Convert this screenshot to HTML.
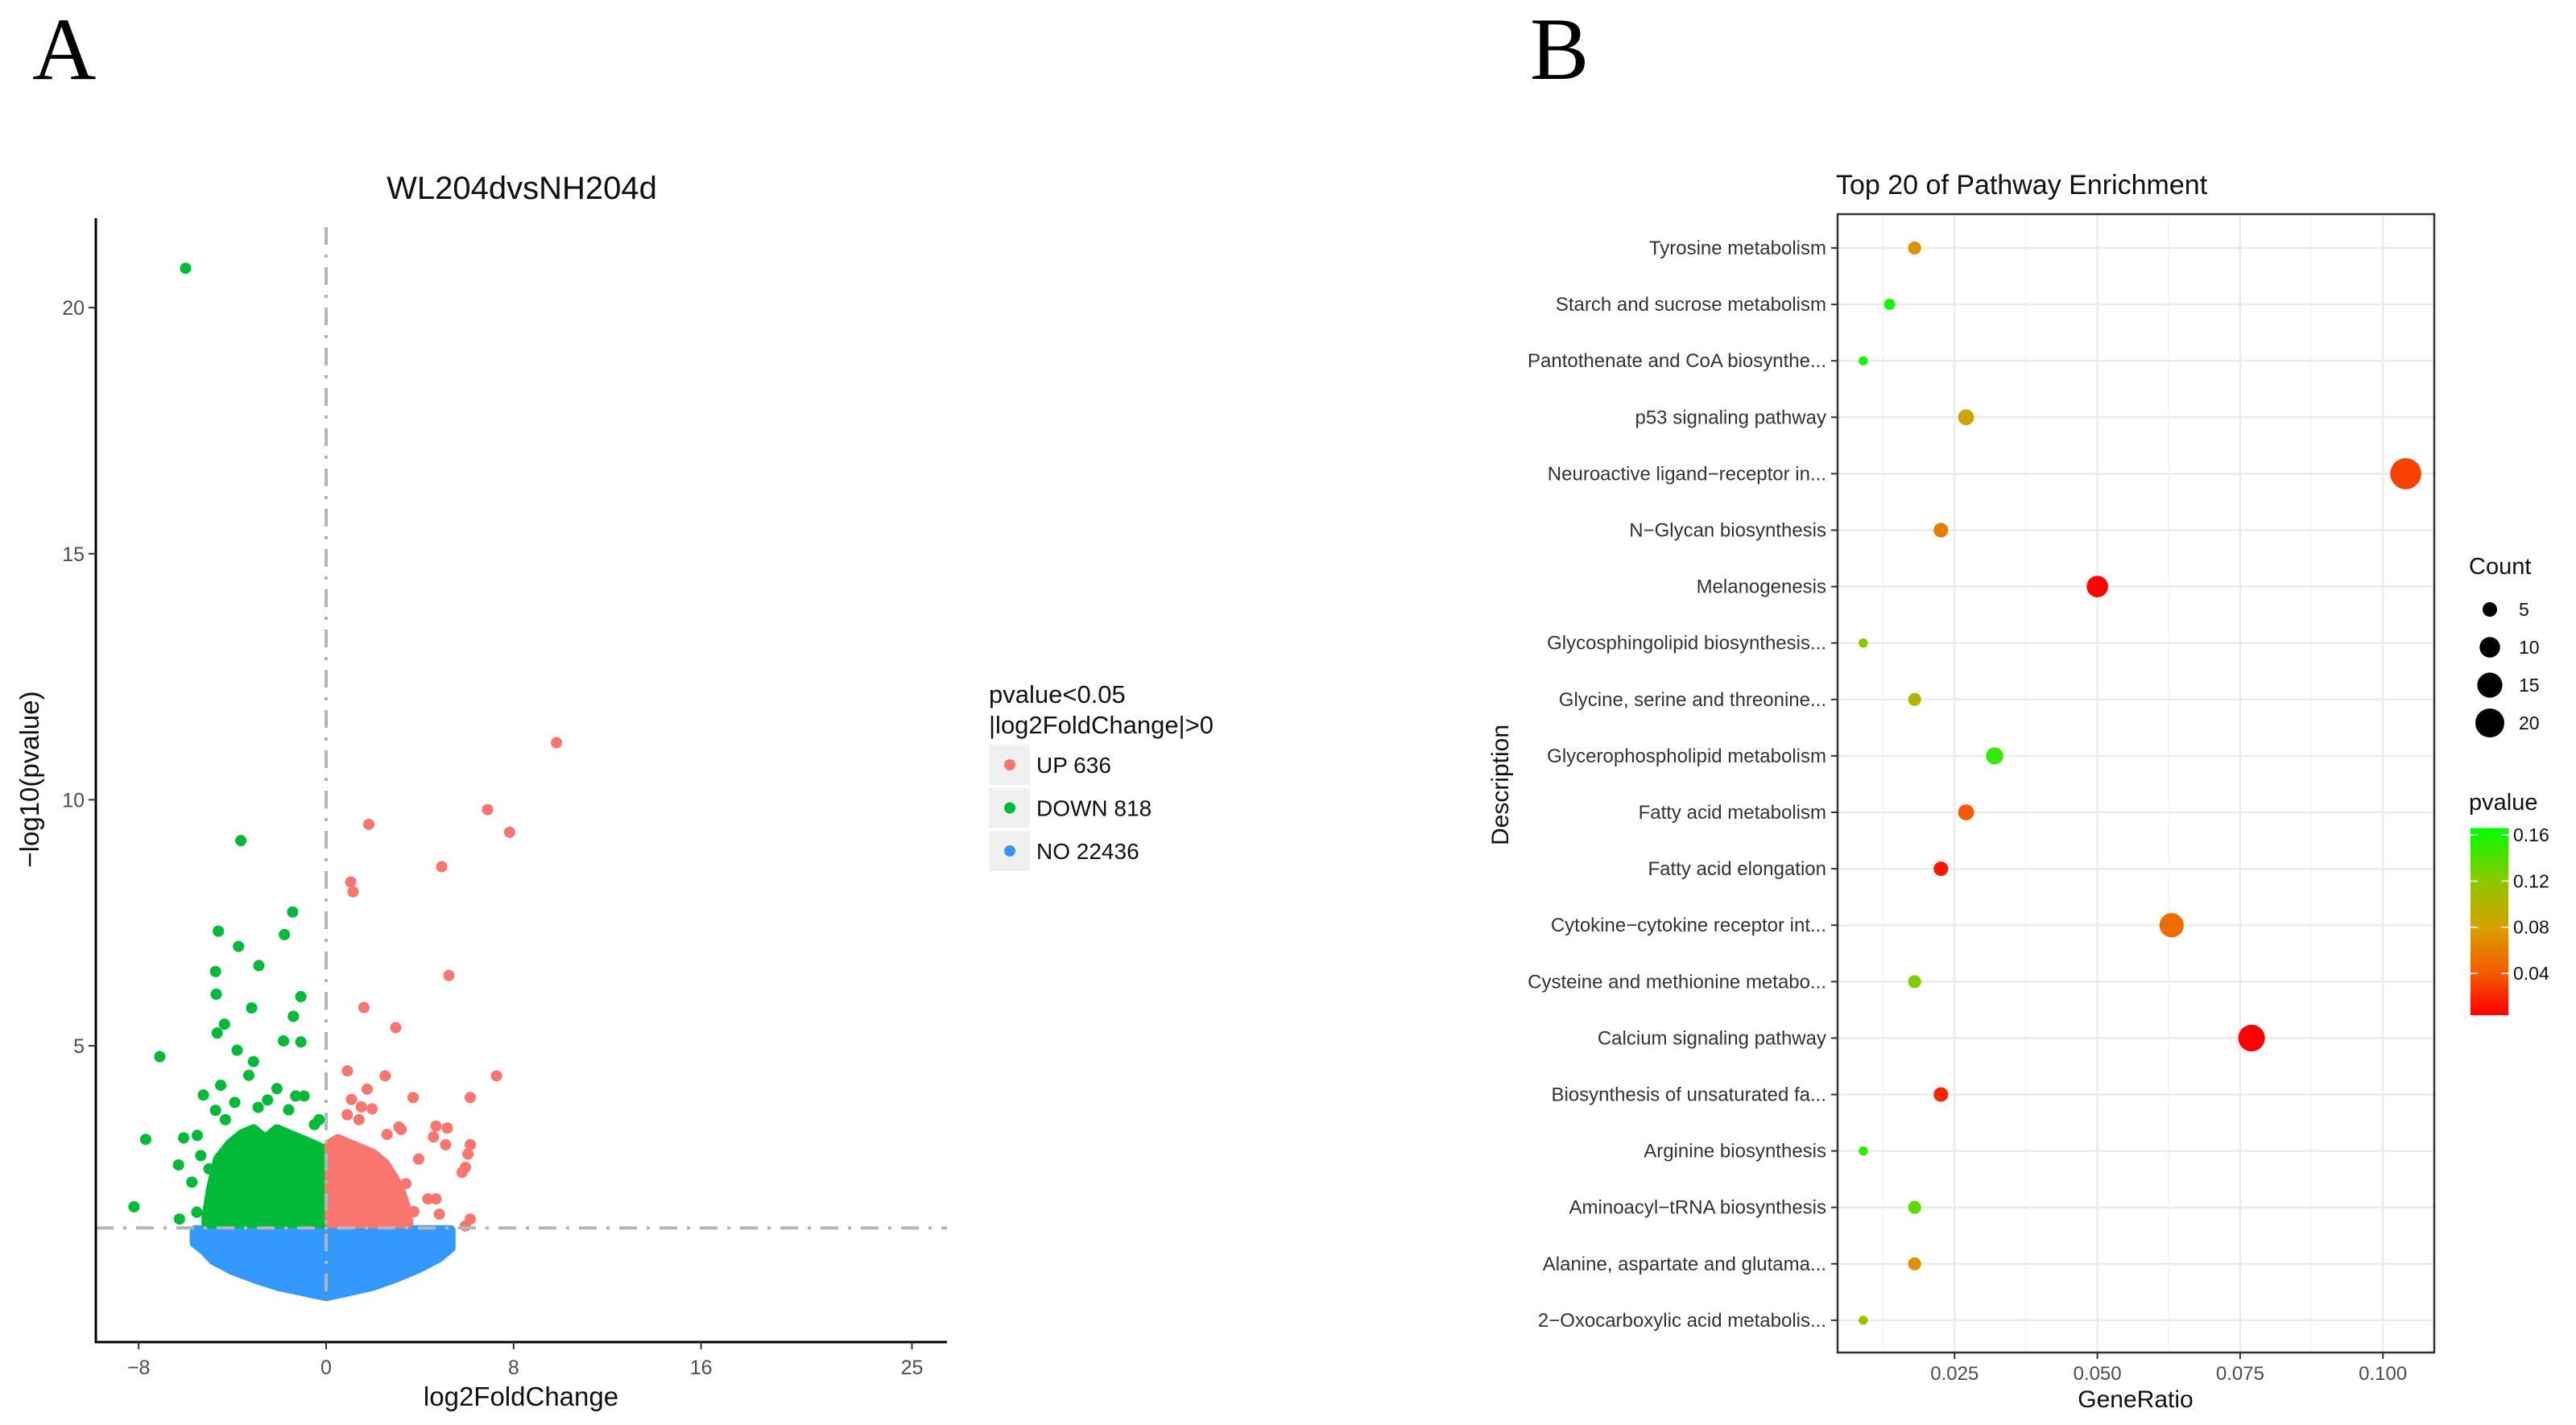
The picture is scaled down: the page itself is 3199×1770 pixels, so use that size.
<!DOCTYPE html>
<html><head><meta charset="utf-8"><style>
html,body{margin:0;padding:0;background:#fff;}
svg{display:block;font-family:"Liberation Sans",Arial,sans-serif;}
</style></head><body>
<svg id="fig" width="3199" height="1770" viewBox="0 0 3199 1770" xmlns="http://www.w3.org/2000/svg">
<rect x="0" y="0" width="3199" height="1770" fill="#fff"/>
<text x="40" y="98" font-family="Liberation Serif, serif" font-size="110">A</text>
<text x="1900" y="98" font-family="Liberation Serif, serif" font-size="110">B</text>
<g id="volcano"></g>
<g id="dotplot"></g>
</svg>
<script>
// ---------- Volcano data ----------
const xTicks = [-8, 0, 8, 16, 25];
const yTicks = [5, 10, 15, 20];
const threshY = 1.3;
const downX = [-6.0,-3.64,-1.43,-1.78,-4.6,-3.74,-2.87,-4.72,-4.69,-1.08,-3.18,-1.4,-4.34,-4.65,-1.82,-1.08,-7.1,-3.8,-3.1,-3.3,-4.5,-2.1,-5.24,-8.2,-7.7,-6.26,-6.08,-6.3,-5.5,-5.73,-5.52,-5.35,-4.72,-0.94,-1.3,-5.0,-4.9,-2.5,-1.6,-4.3,-3.9,-2.9,-0.5,-0.3];
const downY = [20.8,9.17,7.72,7.26,7.33,7.02,6.63,6.51,6.05,6.0,5.77,5.6,5.44,5.26,5.1,5.08,4.78,4.91,4.68,4.4,4.2,4.13,4.0,1.73,3.1,1.48,3.13,2.58,3.18,2.23,1.62,2.77,3.69,3.98,3.98,2.5,1.9,3.9,3.7,3.5,3.85,3.75,3.4,3.5];
const upX = [9.83,6.89,7.83,1.82,4.93,1.05,1.15,5.24,1.61,2.97,7.27,0.91,2.52,1.75,6.15,3.71,1.08,1.5,1.96,4.69,5.17,6.15,6.05,5.94,5.8,5.1,4.58,3.11,4.69,4.34,6.15,5.94,3.74,4.83,3.95,0.9,1.4,3.4,3.2,2.6];
const upY = [11.16,9.8,9.34,9.5,8.64,8.33,8.13,6.43,5.78,5.37,4.39,4.49,4.39,4.12,3.95,3.95,3.91,3.76,3.72,3.37,3.33,2.99,2.8,2.53,2.43,2.99,3.15,3.35,1.89,1.89,1.48,1.34,1.63,1.58,2.7,3.6,3.5,2.2,3.3,3.2];
const downCloudX = [-5.1,-4.9,-4.6,-4.1,-3.6,-3.1,-2.6,-2.1,-1.6,-1.1,-0.6,-0.15];
const downCloudY = [1.5,2.1,2.7,3.0,3.2,3.3,3.1,3.3,3.2,3.1,3.0,2.9];
const upCloudX = [0.15,0.5,1.0,1.5,2.0,2.5,2.9,3.2,3.4,3.5];
const upCloudY = [3.0,3.1,3.0,2.9,2.8,2.6,2.3,2.0,1.7,1.4];
const noCloudX = [-5.6,-5.2,-4.8,-4.0,-3.0,-2.0,-1.0,0,1.0,2.0,3.0,4.0,4.8,5.3];
const noCloudBottom = [1.0,0.85,0.65,0.45,0.27,0.12,0.02,-0.08,0.02,0.13,0.3,0.5,0.7,0.9];
const noCloudTop = 1.25;
const legendLabels = ["UP 636","DOWN 818","NO 22436"];
const legendColors = ["#f8766d","#00ba38","#3399ff"];

// ---------- Dot plot data ----------
const pathways = ["Tyrosine metabolism","Starch and sucrose metabolism","Pantothenate and CoA biosynthe...","p53 signaling pathway","Neuroactive ligand\u2212receptor in...","N\u2212Glycan biosynthesis","Melanogenesis","Glycosphingolipid biosynthesis...","Glycine, serine and threonine...","Glycerophospholipid metabolism","Fatty acid metabolism","Fatty acid elongation","Cytokine\u2212cytokine receptor int...","Cysteine and methionine metabo...","Calcium signaling pathway","Biosynthesis of unsaturated fa...","Arginine biosynthesis","Aminoacyl\u2212tRNA biosynthesis","Alanine, aspartate and glutama...","2\u2212Oxocarboxylic acid metabolis..."];
const geneRatio = [0.018,0.0136,0.009,0.027,0.104,0.0226,0.050,0.009,0.018,0.032,0.027,0.0226,0.063,0.018,0.077,0.0226,0.009,0.018,0.018,0.009];
const counts = [4,3,2,6,23,5,11,2,4,7,6,5,14,4,17,5,2,4,4,2];
const pvals = [0.07,0.16,0.155,0.085,0.03,0.06,0.006,0.12,0.1,0.15,0.04,0.012,0.05,0.125,0.004,0.018,0.15,0.135,0.07,0.11];
const ratioTicks = [0.025,0.050,0.075,0.100];
const ratioTickLabels = ["0.025","0.050","0.075","0.100"];
const countLegend = [5,10,15,20];
const pTicks = [0.04,0.08,0.12,0.16];

const NS = "http://www.w3.org/2000/svg";
function mk(tag, attrs, parent){const e=document.createElementNS(NS,tag);for(const k in attrs)e.setAttribute(k,attrs[k]);parent.appendChild(e);return e;}

// ---------- Volcano ----------
const V = document.getElementById('volcano');
const vx = v => 405 + 29.1*v;
const vy = v => 1604.7 - 61.13*v;
const axL=119, axR=1176, axB=1667, axT=271;
let t = mk('text',{x:648,y:247,'font-size':40,'text-anchor':'middle',fill:'#111'},V);
t.textContent='WL204dvsNH204d';


function cloud(xs, top, bottom, color, name){
  let pts=[];
  xs.forEach((x,i)=>pts.push(vx(x)+','+vy(top[i])));
  for(let i=xs.length-1;i>=0;i--) pts.push(vx(xs[i])+','+vy(bottom[i]));
  const p=mk('polygon',{points:pts.join(' '),fill:color,stroke:color,'stroke-width':13,'stroke-linejoin':'round'},V);
  
  
}
cloud(noCloudX, noCloudX.map(()=>noCloudTop), noCloudBottom, '#3399ff','no-cloud');
cloud(downCloudX, downCloudY, downCloudX.map(()=>1.4), '#00ba38','down-cloud');
cloud(upCloudX, upCloudY, upCloudX.map(()=>1.4), '#f8766d','up-cloud');
downX.forEach((x,i)=>{const c=mk('circle',{cx:vx(x),cy:vy(downY[i]),r:7,fill:'#00ba38'},V);
  
  });
upX.forEach((x,i)=>{const c=mk('circle',{cx:vx(x),cy:vy(upY[i]),r:7,fill:'#f8766d'},V);
  
  });
let l=mk('line',{x1:axL,x2:axR,y1:vy(threshY),y2:vy(threshY),stroke:'#b5b5b5','stroke-width':4,'stroke-dasharray':'22 12 4 12'},V);


l=mk('line',{x1:vx(0),x2:vx(0),y1:282,y2:1610,stroke:'#b5b5b5','stroke-width':4,'stroke-dasharray':'22 12 4 12'},V);


l=mk('line',{x1:axL,x2:axL,y1:axT,y2:axB+1,stroke:'#000','stroke-width':3},V);


l=mk('line',{x1:axL-1,x2:axR,y1:axB,y2:axB,stroke:'#000','stroke-width':3},V);


xTicks.forEach(v=>{
  const tk=mk('line',{x1:vx(v),x2:vx(v),y1:axB,y2:axB+9,stroke:'#333','stroke-width':2},V);
  
  
  const tx=mk('text',{x:vx(v),y:axB+40,'font-size':25,'text-anchor':'middle',fill:'#4d4d4d'},V);
  tx.textContent = v<0 ? '\u2212'+Math.abs(v) : String(v);
  
  
});
yTicks.forEach(v=>{
  const tk=mk('line',{x1:axL-9,x2:axL,y1:vy(v),y2:vy(v),stroke:'#333','stroke-width':2},V);
  
  
  const tx=mk('text',{x:axL-14,y:vy(v)+9,'font-size':25,'text-anchor':'end',fill:'#4d4d4d'},V);
  tx.textContent=String(v);
  
  
});
t=mk('text',{x:647,y:1746,'font-size':33,'text-anchor':'middle',fill:'#111'},V);
t.textContent='log2FoldChange';


t=mk('text',{x:0,y:0,'font-size':33,'text-anchor':'middle',fill:'#111',transform:'translate(48,968) rotate(-90)'},V);
t.textContent='\u2212log10(pvalue)';


t=mk('text',{x:1228,y:873,'font-size':31,fill:'#111'},V);
t.textContent='pvalue<0.05';


t=mk('text',{x:1228,y:911,'font-size':31,fill:'#111'},V);
t.textContent='|log2FoldChange|>0';


legendLabels.forEach((lab,i)=>{
  const y0=925+i*53.5;
  const b=mk('rect',{x:1228,y:y0,width:51,height:50,fill:'#f0f0f0'},V);
  
  
  const c=mk('circle',{cx:1254,cy:y0+25,r:7,fill:legendColors[i]},V);
  
  
  const tx=mk('text',{x:1287,y:y0+35,'font-size':28,fill:'#111'},V);
  tx.textContent=lab;
  
  
});

// ---------- Dot plot ----------
const D = document.getElementById('dotplot');
const bx0=2282,bx1=3023,by0=266,by1=1680;
const dx = v => 2250 + 7092*v;
const dy = i => 308 + i*70.1;
function pColor(p){
  const stops=[[0.0037,[255,0,0]],[0.04,[245,90,0]],[0.08,[215,160,0]],[0.12,[140,200,0]],[0.166,[0,255,0]]];
  if(p<=stops[0][0])return 'rgb(255,0,0)';
  for(let i=1;i<stops.length;i++){if(p<=stops[i][0]){const a=stops[i-1],b=stops[i];const f=(p-a[0])/(b[0]-a[0]);
    return 'rgb('+a[1].map((c,k)=>Math.round(c+(b[1][k]-c)*f)).join(',')+')';}}
  return 'rgb(0,255,0)';
}
const rOf = c => 18*Math.sqrt(c/20);
t=mk('text',{x:2280,y:241,'font-size':34,fill:'#111'},D);
t.textContent='Top 20 of Pathway Enrichment';


let bg=mk('rect',{x:bx0,y:by0,width:bx1-bx0,height:by1-by0,fill:'#fff'},D);


ratioTicks.forEach((v,i)=>{
  const g=mk('line',{x1:dx(v),x2:dx(v),y1:by0,y2:by1,stroke:'#ebebeb','stroke-width':2.5},D);
  
  
  const m=mk('line',{x1:dx(v-0.0125),x2:dx(v-0.0125),y1:by0,y2:by1,stroke:'#f4f4f4','stroke-width':1.5},D);
  
  
});
pathways.forEach((name,i)=>{
  const g=mk('line',{x1:bx0,x2:bx1,y1:dy(i),y2:dy(i),stroke:'#ebebeb','stroke-width':2.5},D);
  
  
});
pathways.forEach((name,i)=>{
  const c=mk('circle',{cx:dx(geneRatio[i]),cy:dy(i),r:rOf(counts[i]),fill:pColor(pvals[i])},D);
  
  
  const tk=mk('line',{x1:bx0-8,x2:bx0,y1:dy(i),y2:dy(i),stroke:'#333','stroke-width':2},D);
  
  
  const tx=mk('text',{x:bx0-14,y:dy(i)+8,'font-size':24,'text-anchor':'end',fill:'#333'},D);
  tx.textContent=name;
  
  
});
let br=mk('rect',{x:bx0,y:by0,width:bx1-bx0,height:by1-by0,fill:'none',stroke:'#333','stroke-width':2.5},D);


ratioTicks.forEach((v,i)=>{
  const tk=mk('line',{x1:dx(v),x2:dx(v),y1:by1,y2:by1+8,stroke:'#333','stroke-width':2},D);
  
  
  const tx=mk('text',{x:dx(v),y:by1+34,'font-size':24,'text-anchor':'middle',fill:'#4d4d4d'},D);
  tx.textContent=ratioTickLabels[i];
  
  
});
t=mk('text',{x:2652,y:1748,'font-size':30,'text-anchor':'middle',fill:'#111'},D);
t.textContent='GeneRatio';


t=mk('text',{x:0,y:0,'font-size':30,'text-anchor':'middle',fill:'#111',transform:'translate(1873,975) rotate(-90)'},D);
t.textContent='Description';


t=mk('text',{x:3066,y:713,'font-size':29,fill:'#111'},D);
t.textContent='Count';


countLegend.forEach((c,i)=>{
  const y=757+i*47;
  const d=mk('circle',{cx:3092,cy:y,r:rOf(c),fill:'#000'},D);
  
  
  const tx=mk('text',{x:3128,y:y+8,'font-size':23,fill:'#111'},D);
  tx.textContent=String(c);
  
  
});
t=mk('text',{x:3066,y:1006,'font-size':29,fill:'#111'},D);
t.textContent='pvalue';


const defs=mk('defs',{},D);
const grad=mk('linearGradient',{id:'pgrad',x1:0,y1:1,x2:0,y2:0},defs);
[0.0037,0.04,0.08,0.12,0.166].forEach(p=>{mk('stop',{offset:((p-0.0037)/(0.166-0.0037)),'stop-color':pColor(p)},grad);});
const py = p => 1209-(p-0.04)*1432;
let cb=mk('rect',{x:3068,y:py(0.166),width:47,height:py(0.0037)-py(0.166),fill:'url(#pgrad)'},D);


pTicks.forEach(p=>{
  const a=mk('line',{x1:3068,x2:3077,y1:py(p),y2:py(p),stroke:'#fff','stroke-width':1.5},D);
  
  
  const b=mk('line',{x1:3106,x2:3115,y1:py(p),y2:py(p),stroke:'#fff','stroke-width':1.5},D);
  
  
  const tx=mk('text',{x:3121,y:py(p)+8,'font-size':23,fill:'#111'},D);
  tx.textContent=p.toFixed(2);
  
  
});
</script>
</body></html>
